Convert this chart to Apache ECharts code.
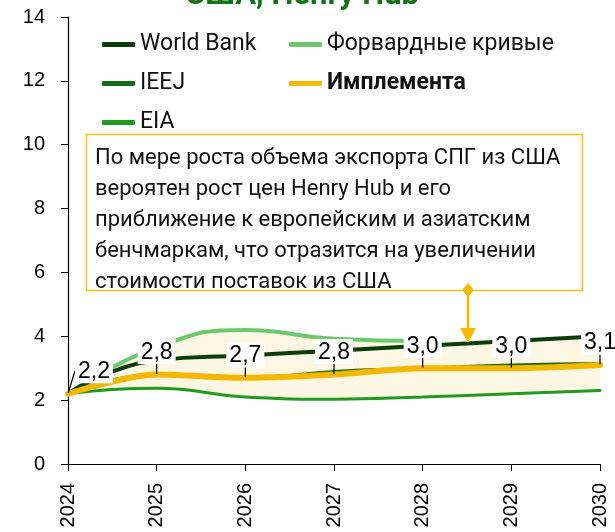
<!DOCTYPE html>
<html>
<head>
<meta charset="utf-8">
<script src="https://cdn.jsdelivr.net/npm/echarts@6/dist/echarts.min.js"></script>
<style>
  html, body { margin: 0; padding: 0; background: #fff; }
  #chart { width: 615px; height: 532px; }
</style>
</head>
<body>
<div id="chart"></div>
<script>
const years = ['2024', '2025', '2026', '2027', '2028', '2029', '2030']
const worldBank = [2.2, 3.25, 3.4, 3.55, 3.7, 3.85, 4.0]
const forward = [2.2, 3.65, 4.2, 3.92, 3.85, null, null]
const ieej = [2.2, 2.8, 2.7, 2.9, 3.0, 3.1, 3.15]
const implementa = [2.2, 2.8, 2.7, 2.8, 3.0, 3.0, 3.1]
const eia = [2.2, 2.37, 2.1, 2.03, 2.1, 2.2, 2.3]
const yTicks = { min: 0, max: 14, interval: 2 }

const noteText = 'По мере роста объема экспорта СПГ из США\nвероятен рост цен Henry Hub и его\nприближение к европейским и азиатским\nбенчмаркам, что отразится на увеличении\nстоимости поставок из США'

// band between lowest (EIA) and highest forecast
const bandTop = years.map((_, i) => Math.max(worldBank[i], forward[i] == null ? -Infinity : forward[i]))
const bandDiff = bandTop.map((v, i) => +(v - eia[i]).toFixed(3))

const C = {
  wb: '#0b3d0b',
  fwd: '#6cc96c',
  ieej: '#176b17',
  impl: '#f4b800',
  eia: '#1f9a1f',
  band: '#fdf6e2'
}

const chart = echarts.init(document.getElementById('chart'))

const lineSeries = (name, data, color, width, z) => ({
  name, type: 'line', data, smooth: true, symbol: 'none', z,
  lineStyle: { color, width, cap: 'round' },
  itemStyle: { color }
})

const legendBase = {
  top: 28, orient: 'vertical', itemGap: 16,
  itemWidth: 33, itemHeight: 5, itemTextGap: 13, icon: 'roundRect',
  textStyle: { fontSize: 23, fontFamily: 'Roboto', color: '#111' }
}

chart.setOption({
  animation: false,
  title: {
    text: 'США, Henry Hub',
    left: 297,
    textAlign: 'center',
    top: -24,
    textStyle: { color: '#16701a', fontSize: 31, fontWeight: 'bold', fontFamily: 'Roboto' }
  },
  grid: { left: 68, right: 15, top: 17, bottom: 68 },
  legend: [
    Object.assign({ left: 97, data: ['World Bank', 'IEEJ', 'EIA'] }, legendBase),
    Object.assign({ left: 284, data: ['Форвардные кривые', { name: 'Имплемента', textStyle: { fontWeight: 'bold' } }] }, legendBase)
  ],
  xAxis: {
    type: 'category',
    data: years,
    boundaryGap: false,
    axisLine: { lineStyle: { color: '#000', width: 1.2 } },
    axisTick: { show: true, length: 7, alignWithLabel: true, lineStyle: { color: '#000' } },
    axisLabel: { rotate: 90, fontSize: 20, fontFamily: 'Liberation Sans', color: '#000', margin: 19 }
  },
  yAxis: {
    type: 'value',
    min: yTicks.min, max: yTicks.max, interval: yTicks.interval,
    splitLine: { show: false },
    axisLine: { show: true, lineStyle: { color: '#000', width: 1.2 } },
    axisTick: { show: true, length: 7, lineStyle: { color: '#000' } },
    axisLabel: { fontSize: 20, fontFamily: 'Liberation Sans', color: '#000', margin: 23 }
  },
  graphic: [
    {
      type: 'rect', z: 100,
      shape: { x: 86.5, y: 134.5, width: 496, height: 156 },
      style: { fill: '#fff', stroke: '#f4c21a', lineWidth: 1.5 }
    },
    {
      type: 'text', z: 101, left: 95, top: 143,
      style: { text: noteText, fontSize: 22, lineHeight: 31, fontFamily: 'Roboto', fill: '#111' }
    },
    {
      type: 'line', z: 101,
      shape: { x1: 468, y1: 290, x2: 468, y2: 330 },
      style: { stroke: '#f4b800', lineWidth: 2.5 }
    },
    {
      type: 'polygon', z: 101,
      shape: { points: [[460, 328], [476, 328], [468, 343]] },
      style: { fill: '#f4b800' }
    },
    {
      type: 'polygon', z: 102,
      shape: { points: [[468, 283], [474, 290], [468, 297], [462, 290]] },
      style: { fill: '#f4b800' }
    }
  ],
  series: [
    {
      name: 'base', type: 'line', data: eia, stack: 'band', smooth: true,
      symbol: 'none', lineStyle: { width: 0 }, silent: true, z: 1
    },
    {
      name: 'band', type: 'line', data: bandDiff, stack: 'band', smooth: true,
      symbol: 'none', lineStyle: { width: 0 }, silent: true, z: 1,
      areaStyle: { color: C.band, opacity: 1 }
    },
    lineSeries('EIA', eia, C.eia, 3, 3),
    lineSeries('Форвардные кривые', forward, C.fwd, 4, 3),
    lineSeries('World Bank', worldBank, C.wb, 4, 4),
    lineSeries('IEEJ', ieej, C.ieej, 3, 4),
    Object.assign(lineSeries('Имплемента', implementa, C.impl, 6, 5), {
      smooth: 0.3,
      symbol: 'circle', symbolSize: 1, showSymbol: true,
      label: {
        show: true, position: 'top', distance: 0,
        formatter: p => p.value.toFixed(1).replace('.', ','),
        fontSize: 23, fontFamily: 'Liberation Sans', color: '#000',
        backgroundColor: '#fff', padding: [2, 3, 0, 3]
      },
      labelLine: { show: true, lineStyle: { color: '#000', width: 1.2 } },
      labelLayout: p => p.dataIndex === 0 ? { dx: 26, dy: -10 } : { dy: -10 }
    })
  ]
})
</script>
</body>
</html>
